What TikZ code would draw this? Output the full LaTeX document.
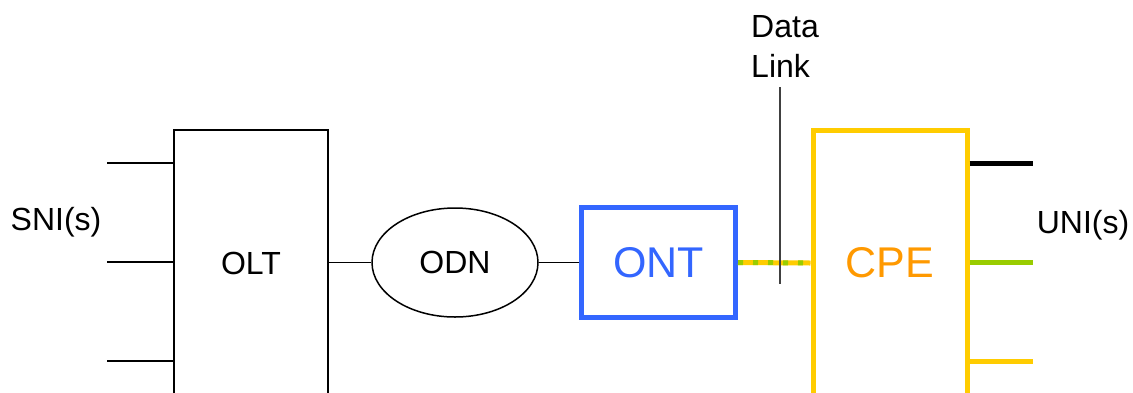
\documentclass[tikz,border=0pt]{standalone}
\usepackage{fontspec}
\setmainfont{Liberation Sans}
\usepackage{tikz}
\usetikzlibrary{shapes.geometric}
\definecolor{ontblue}{HTML}{3366FF}
\definecolor{cpeyellow}{HTML}{FFCC00}
\definecolor{unigreen}{HTML}{99CC00}
\definecolor{cpeorange}{HTML}{FF9900}
\tikzset{box/.style = {draw, line width = 1.5, inner sep = 0, minimum width = 154}}
\tikzset{thick box/.style = {box, line width = 5}}
\tikzset{wire/.style = {line width = 1.5}}
\tikzset{thick wire/.style = {line width = 5}}
\tikzset{label text/.style = {font = \fontsize{32}{40}\selectfont}}
\tikzset{big text/.style = {font = \fontsize{43}{50}\selectfont}}

\begin{document}
\begin{tikzpicture}[x=1pt, y=-1pt]
    \useasboundingbox (0, 0) rectangle (1133, 392);
    \clip (0, 0) rectangle (1133, 392);

    % network side
    \node [box, minimum height = 266, label text] (olt) at (251, 263) {OLT};
    \node [draw, ellipse, line width = 1.5, inner sep = 0, minimum width = 166, minimum height = 109, label text] (odn) at (455, 262.5) {ODN};
    \node [thick box, draw = ontblue, text = ontblue, minimum height = 110, big text] (ont) at (658.5, 262.5) {ONT};
    \node [thick box, draw = cpeyellow, text = cpeorange, minimum height = 266, big text] (cpe) at (890, 263) {CPE};

    \node [label text] (sni) at (56, 222) {SNI(s)};
    \node [label text] (uni) at (1083, 225) {UNI(s)};
    \node [label text, align = left] (datalink) at (785, 46) {Data\\Link};

    \coordinate (sni1) at (107, 163);
    \coordinate (sni2) at (107, 262);
    \coordinate (sni3) at (107, 361);
    \coordinate (uni1) at (1033, 163);
    \coordinate (uni2) at (1033, 262);
    \coordinate (uni3) at (1033, 361);
    \coordinate (dltop) at (780, 87);
    \coordinate (dlbot) at (780, 284);

    \draw [wire] (sni1) -- (sni1 -| olt.west);
    \draw [wire] (sni2) -- (sni2 -| olt.west);
    \draw [wire] (sni3) -- (sni3 -| olt.west);
    \draw [wire] (olt.east |- odn.west) -- (odn.west);
    \draw [wire] (odn.east) -- (ont.west);

    % data link
    \draw [thick wire, cpeyellow] (ont.east) -- (cpe.west);
    \draw [thick wire, unigreen, dash pattern = on 5 off 10] (ont.east) -- (cpe.west);
    \draw [line width = 2, black!75] (dltop) -- (dlbot);

    % user side
    \draw [thick wire, black] (uni1 -| cpe.east) -- (uni1);
    \draw [thick wire, unigreen] (uni2 -| cpe.east) -- (uni2);
    \draw [thick wire, cpeyellow] (uni3 -| cpe.east) -- (uni3);
  \end{tikzpicture}
\end{document}
